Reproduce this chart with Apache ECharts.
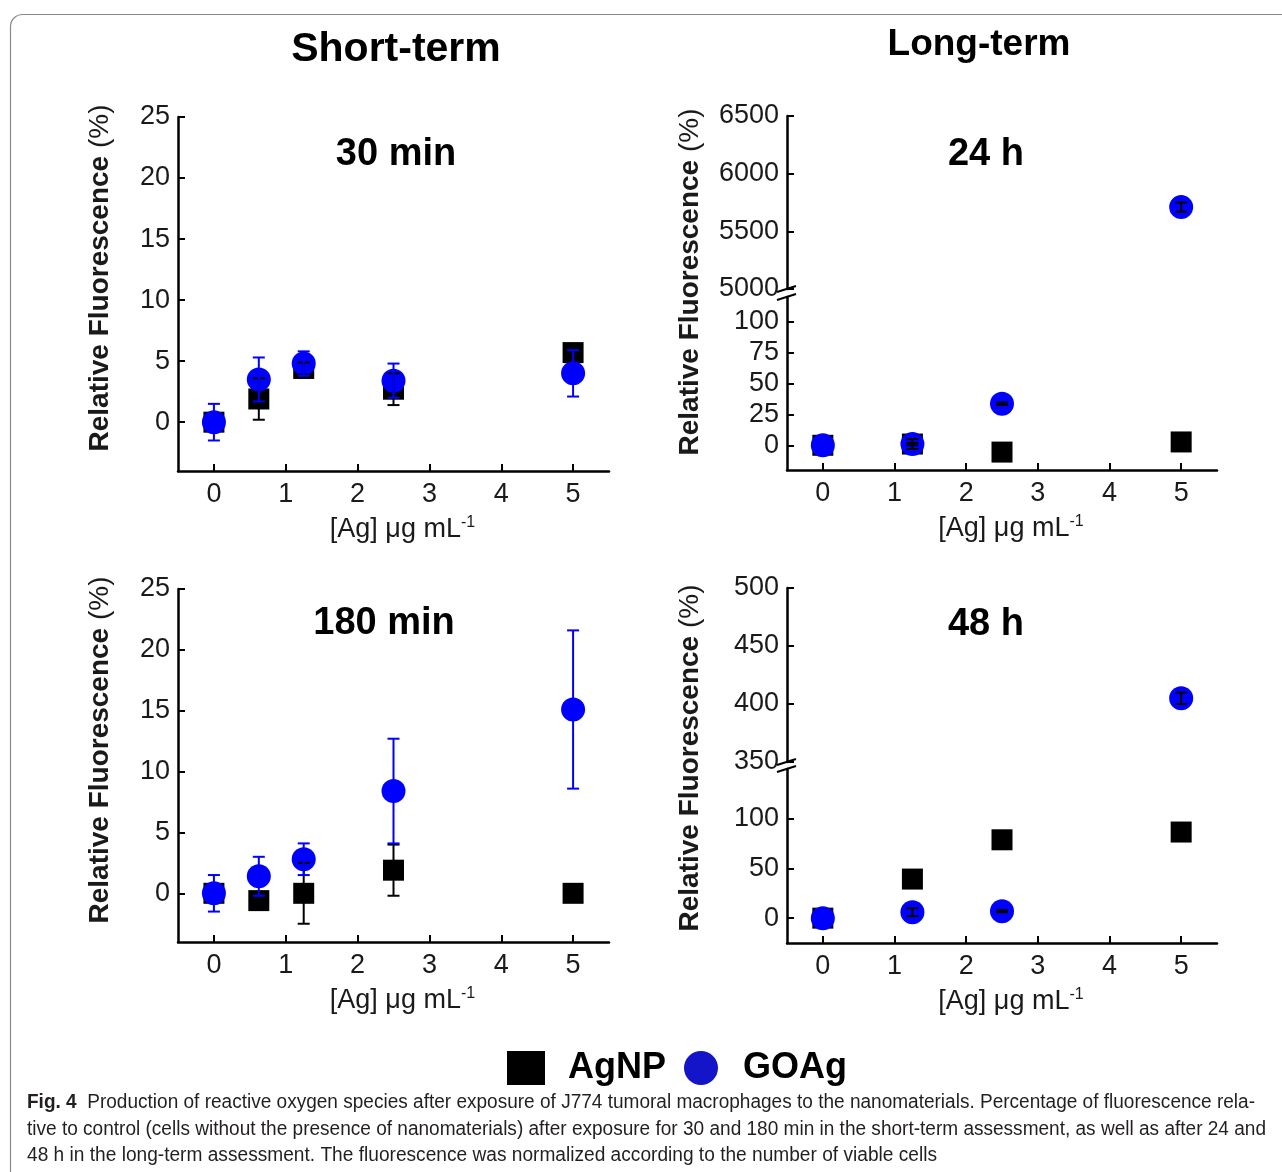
<!DOCTYPE html>
<html>
<head>
<meta charset="utf-8">
<script src="https://cdn.jsdelivr.net/npm/echarts@6/dist/echarts.min.js"></script>
<style>
  html, body { margin: 0; padding: 0; background: #fff; }
  #chart { width: 1282px; height: 1172px; }
</style>
</head>
<body>
<div id="chart"></div>
<script>
// ---- data ----
const dosesShort = [0, 0.625, 1.25, 2.5, 5];
const dosesLong = [0, 1.25, 2.5, 5];
const xTicks = [0, 1, 2, 3, 4, 5];

// 30 min
const agnp30 = [0, 1.9, 4.4, 2.7, 5.7];
const agnp30Err = [0, 1.7, 0.5, 1.3, 0.3];
const goag30 = [0, 3.5, 4.8, 3.4, 4.0];
const goag30Err = [1.5, 1.8, 1.0, 1.4, 1.9];

// 180 min
const agnp180 = [0, -0.6, 0, 1.9, 0];
const agnp180Err = [0, 0.3, 2.5, 2.1, 0.2];
const goag180 = [0, 1.4, 2.8, 8.4, 15.1];
const goag180Err = [1.5, 1.6, 1.3, 4.3, 6.5];

// 24 h
const agnp24 = [0, 1, -5.5, 2.7];
const agnp24Err = [0, 1, 1, 1];
const goag24 = [0, 1, 33.7, 5710];
const goag24Err = [0, 4, 1, 40];

// 48 h
const agnp48 = [0, 39.3, 78.8, 86.6];
const agnp48Err = [0, 1, 1, 1];
const goag48 = [0, 6, 7, 405];
const goag48Err = [0, 4, 1, 5];

const yTicksShort = [0, 5, 10, 15, 20, 25];
const yTicks24Low = [0, 25, 50, 75, 100];
const yTicks24High = [5000, 5500, 6000, 6500];
const yTicks48Low = [0, 50, 100];
const yTicks48High = [350, 400, 450, 500];

const captionLines = [
  'Production of reactive oxygen species after exposure of J774 tumoral macrophages to the nanomaterials. Percentage of fluorescence rela-',
  'tive to control (cells without the presence of nanomaterials) after exposure for 30 and 180 min in the short-term assessment, as well as after 24 and',
  '48 h in the long-term assessment. The fluorescence was normalized according to the number of viable cells'
];

// ---- layout / styles ----
const FONT = '"Liberation Sans", Arial, Helvetica, sans-serif';
const BLUE = '#0000ff';
const INK = '#1a1a1a';

const panels = [
  {
    title: '30 min', titleX: 396, titleY: 155, nameX: 100, nameY: 278,
    doses: dosesShort, agnp: agnp30, agnpErr: agnp30Err, goag: goag30, goagErr: goag30Err, goagErrColor: BLUE,
    segments: [{ left: 178, top: 117, width: 431, height: 354, min: -4, max: 25, ticks: yTicksShort }]
  },
  {
    title: '180 min', titleX: 384, titleY: 624, nameX: 100, nameY: 750,
    doses: dosesShort, agnp: agnp180, agnpErr: agnp180Err, goag: goag180, goagErr: goag180Err, goagErrColor: BLUE,
    segments: [{ left: 178, top: 589, width: 431, height: 353, min: -4, max: 25, ticks: yTicksShort }]
  },
  {
    title: '24 h', titleX: 986, titleY: 155, nameX: 690, nameY: 282,
    doses: dosesLong, agnp: agnp24, agnpErr: agnp24Err, goag: goag24, goagErr: goag24Err, goagErrColor: '#000',
    segments: [
      { left: 787, top: 297, width: 430, height: 173, min: -20, max: 120, ticks: yTicks24Low },
      { left: 787, top: 116, width: 430, height: 173, min: 5000, max: 6500, ticks: yTicks24High }
    ]
  },
  {
    title: '48 h', titleX: 986, titleY: 625, nameX: 690, nameY: 758,
    doses: dosesLong, agnp: agnp48, agnpErr: agnp48Err, goag: goag48, goagErr: goag48Err, goagErrColor: '#000',
    segments: [
      { left: 787, top: 769, width: 430, height: 174, min: -25, max: 150, ticks: yTicks48Low },
      { left: 787, top: 588, width: 430, height: 174, min: 350, max: 500, ticks: yTicks48High }
    ]
  }
];

const grid = [], xAxis = [], yAxis = [], series = [], graphic = [];

function errorBarRender(color) {
  return function (params, api) {
    const x = api.value(0), y = api.value(1), e = api.value(2);
    if (!e) return null;
    const top = api.coord([x, y + e]);
    const bot = api.coord([x, y - e]);
    const cap = 6;
    const st = { stroke: color, lineWidth: 2 };
    return {
      type: 'group',
      children: [
        { type: 'line', shape: { x1: top[0], y1: top[1], x2: bot[0], y2: bot[1] }, style: st },
        { type: 'line', shape: { x1: top[0] - cap, y1: top[1], x2: top[0] + cap, y2: top[1] }, style: st },
        { type: 'line', shape: { x1: bot[0] - cap, y1: bot[1], x2: bot[0] + cap, y2: bot[1] }, style: st }
      ]
    };
  };
}

function segmentOf(segs, v) {
  for (let i = segs.length - 1; i >= 0; i--) {
    if (v >= segs[i].min) return i;
  }
  return 0;
}

panels.forEach(function (p) {
  const base = grid.length;
  p.segments.forEach(function (s, si) {
    const gi = grid.length;
    const lowest = si === 0;
    grid.push({ left: s.left, top: s.top, width: s.width, height: s.height, containLabel: false });
    xAxis.push({
      type: 'value', gridIndex: gi, min: -0.5, max: 5.5, show: lowest,
      axisLine: { show: true, onZero: false, lineStyle: { color: '#000', width: 2.5 } },
      axisTick: { show: true, inside: true, length: 7, customValues: xTicks, lineStyle: { color: '#000', width: 2 } },
      axisLabel: { customValues: xTicks, color: INK, fontSize: 27, fontFamily: FONT, margin: 10 },
      splitLine: { show: false },
      name: '[Ag] \u03bcg mL{sup|-1}', nameLocation: 'middle', nameGap: 44,
      nameTextStyle: {
        color: INK, fontSize: 27, fontFamily: FONT, padding: [0, 0, 0, 18], lineHeight: 30,
        rich: { sup: { fontSize: 16, fontFamily: FONT, color: INK, verticalAlign: 'top', lineHeight: 16 } }
      }
    });
    yAxis.push({
      type: 'value', gridIndex: gi, min: s.min, max: s.max,
      axisLine: { show: true, onZero: false, lineStyle: { color: '#000', width: 2.5 } },
      axisTick: { show: true, inside: true, length: 7, customValues: s.ticks, lineStyle: { color: '#000', width: 2 } },
      axisLabel: {
        customValues: s.ticks, color: INK, fontSize: 27, fontFamily: FONT, margin: 8,
        formatter: function (v) { return String(v); }
      },
      splitLine: { show: false }
    });
  });

  // points, split between the segments of a broken axis
  const groups = [
    { name: 'AgNP', vals: p.agnp, errs: p.agnpErr, symbol: 'rect', size: 21, color: '#000', errColor: '#000', z: 2 },
    { name: 'GOAg', vals: p.goag, errs: p.goagErr, symbol: 'circle', size: 24, color: BLUE, errColor: p.goagErrColor, z: 3 }
  ];
  groups.forEach(function (g) {
    p.segments.forEach(function (s, si) {
      const pts = [];
      p.doses.forEach(function (d, i) {
        if (segmentOf(p.segments, g.vals[i]) === si) pts.push([d, g.vals[i], g.errs[i]]);
      });
      if (!pts.length) return;
      series.push({
        type: 'scatter', name: g.name, xAxisIndex: base + si, yAxisIndex: base + si,
        symbol: g.symbol, symbolSize: g.size, z: g.z,
        itemStyle: { color: g.color, opacity: 1 },
        emphasis: { disabled: true },
        data: pts.map(function (q) { return [q[0], q[1]]; })
      });
      series.push({
        type: 'custom', name: g.name + ' SD', xAxisIndex: base + si, yAxisIndex: base + si,
        z: 4, renderItem: errorBarRender(g.errColor), silent: true,
        encode: { x: 0, y: 1 },
        data: pts
      });
    });
  });

  // axis break marks
  if (p.segments.length > 1) {
    const lo = p.segments[0], hi = p.segments[1];
    const ax = lo.left;
    [hi.top + hi.height, lo.top].forEach(function (yy) {
      graphic.push({
        type: 'line', shape: { x1: ax - 10, y1: yy + 3, x2: ax + 9, y2: yy - 3 },
        style: { stroke: '#000', lineWidth: 2 }
      });
    });
  }

  graphic.push({
    type: 'text', x: p.titleX, y: p.titleY,
    style: { text: p.title, font: 'bold 38px ' + FONT, fill: '#000', textAlign: 'center', textVerticalAlign: 'middle' }
  });
  graphic.push({
    type: 'text', x: p.nameX, y: p.nameY, rotation: Math.PI / 2,
    style: {
      text: '{b|Relative Fluorescence }{n|(%)}', textAlign: 'center', textVerticalAlign: 'middle',
      rich: {
        b: { fontWeight: 'bold', fontSize: 28, fontFamily: FONT, fill: INK },
        n: { fontSize: 28, fontFamily: FONT, fill: INK }
      }
    }
  });
});

// column headings
graphic.push({ type: 'text', x: 396, y: 50,
  style: { text: 'Short-term', font: 'bold 41px ' + FONT, fill: '#000', textAlign: 'center', textVerticalAlign: 'middle' } });
graphic.push({ type: 'text', x: 979, y: 45,
  style: { text: 'Long-term', font: 'bold 37px ' + FONT, fill: '#000', textAlign: 'center', textVerticalAlign: 'middle' } });

// frame
graphic.push({ type: 'rect', z: -1, shape: { x: 10.5, y: 14.5, width: 1300, height: 1200, r: 12 },
  style: { fill: 'none', stroke: '#8a8a8a', lineWidth: 1.2 } });

// caption, squeezed to the justified widths of the printed lines
const CAP_FONT = '"Liberation Sans", Arial, sans-serif';
const CAP_SIZE = 20;
const mctx = document.createElement('canvas').getContext('2d');
function textW(t, weight) { mctx.font = weight + ' ' + CAP_SIZE + 'px ' + CAP_FONT; return mctx.measureText(t).width; }
const capLeft = 27;
const capRights = [1255, 1266, 937];
const capYs = [1102, 1129, 1155];
captionLines.forEach(function (line, i) {
  const isFirst = i === 0;
  const natural = isFirst ? textW('Fig. 4', 'bold') + textW('  ' + line, 'normal') : textW(line, 'normal');
  const sx = (capRights[i] - capLeft) / natural;
  graphic.push({
    type: 'text', x: capLeft, y: capYs[i], scaleX: sx, scaleY: 1,
    style: isFirst ? {
      text: '{b|Fig. 4}{r|  ' + line + '}', textVerticalAlign: 'middle',
      rich: {
        b: { fontWeight: 'bold', fontSize: CAP_SIZE, fontFamily: CAP_FONT, fill: '#231f20' },
        r: { fontSize: CAP_SIZE, fontFamily: CAP_FONT, fill: '#231f20' }
      }
    } : {
      text: line, font: CAP_SIZE + 'px ' + CAP_FONT, fill: '#231f20', textVerticalAlign: 'middle'
    }
  });
});

const chart = echarts.init(document.getElementById('chart'));
chart.setOption({
  animation: false,
  backgroundColor: '#fff',
  grid: grid,
  xAxis: xAxis,
  yAxis: yAxis,
  legend: {
    left: 502, top: 1045, itemWidth: 38, itemHeight: 34, itemGap: 18,
    selectedMode: false,
    textStyle: { fontSize: 36, fontWeight: 'bold', fontFamily: FONT, color: '#000', padding: [0, 0, 0, 18] },
    data: [
      { name: 'AgNP', icon: 'rect', itemStyle: { color: '#000' } },
      { name: 'GOAg', icon: 'circle', itemStyle: { color: '#1414c8' } }
    ]
  },
  graphic: graphic,
  series: series
});
</script>
</body>
</html>
